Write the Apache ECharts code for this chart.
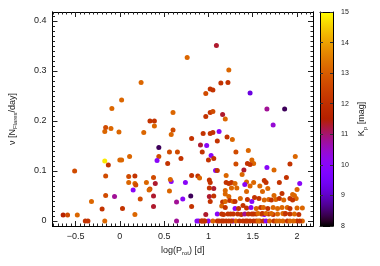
<!DOCTYPE html>
<html><head><meta charset="utf-8">
<script src="https://cdn.jsdelivr.net/npm/echarts@6/dist/echarts.min.js"></script>
<style>html,body{margin:0;padding:0;background:#fff}#c{width:380px;height:266px}</style>
</head><body><div id="c"></div>
<script>
// ---- data ----
const Y=14.8,O=13.15,OR=12.65,R=12.1,MR=11.3,M=10.8,V=10.0,DV=9.2,DP=8.4;
const logP=[-0.64,-0.59,-0.48,-0.39,-0.36,-0.51,-0.32,-0.20,-0.17,-0.16,-0.06,0.03,-0.17,-0.13,-0.16,-0.17,-0.16,-0.10,-0.01,-0.09,0.02,0.0,0.02,0.11,0.10,0.10,0.15,0.27,0.34,0.39,
0.39,0.58,0.60,0.44,0.44,0.42,0.56,0.65,0.54,0.69,0.17,0.17,0.18,0.38,0.30,0.40,0.34,0.33,0.58,0.57,0.74,0.81,0.88,0.23,0.38,0.38,0.64,0.71,0.80,0.81,
0.17,0.64,0.56,0.76,0.24,0.60,0.97,1.02,1.05,0.97,1.02,1.05,1.09,1.23,1.14,1.22,1.47,1.16,1.19,1.66,1.86,1.73,0.81,0.94,1.02,1.05,1.12,1.10,1.21,1.27,
0.91,0.98,0.93,1.03,1.00,1.06,1.31,1.45,1.49,1.51,1.31,1.44,1.47,1.66,1.74,1.98,1.92,1.08,1.10,1.40,1.38,1.20,1.01,1.02,1.20,1.23,1.26,1.30,1.43,1.51,
1.63,1.65,1.80,1.88,2.03,1.06,1.01,1.19,1.26,1.32,1.43,1.47,1.58,1.61,1.67,2.00,1.41,1.01,1.06,1.19,1.23,1.36,1.44,1.49,1.52,1.57,1.63,1.68,1.71,1.76,
1.80,1.85,1.92,1.97,1.99,1.02,1.16,1.19,1.24,1.28,1.30,1.83,1.95,1.95,1.74,1.15,1.19,1.30,1.34,1.39,1.43,1.48,1.54,1.59,1.62,1.67,1.73,1.78,1.83,1.89,
1.92,2.00,2.06,0.97,1.10,1.15,1.17,1.22,1.25,1.28,1.33,1.37,1.41,1.45,1.49,1.51,1.54,1.60,1.63,1.68,1.73,1.78,1.86,1.92,1.97,2.02,1.56,1.61,1.65,1.71,
1.84,1.87,0.87,0.89,0.92,0.95,1.00,1.05,1.10,1.15,1.17,1.20,1.23,1.28,1.31,1.35,1.39,1.42,1.47,1.51,1.54,1.58,1.62,1.65,1.69,1.74,1.80,1.84,1.89,1.92,
2.00,2.06,0.93,0.96,1.12,1.26,1.44,1.56,1.77,1.96,2.03,0.90];
const nu=[0.012,0.012,0.012,0.0,0.0,0.100,0.039,0.024,0.0,0.051,0.049,0.025,0.120,0.112,0.090,0.179,0.187,0.185,0.178,0.225,0.242,0.122,0.122,0.129,0.089,0.077,0.062,0.177,0.200,0.200,
0.190,0.173,0.182,0.147,0.129,0.121,0.138,0.138,0.115,0.125,0.090,0.075,0.072,0.087,0.077,0.075,0.064,0.062,0.079,0.083,0.077,0.091,0.090,0.044,0.050,0.029,0.038,0.044,0.050,0.029,
0.013,0.0,0.060,0.327,0.277,0.217,0.255,0.264,0.262,0.209,0.217,0.219,0.351,0.302,0.276,0.277,0.256,0.213,0.204,0.224,0.224,0.192,0.165,0.175,0.175,0.177,0.179,0.160,0.168,0.163,
0.152,0.151,0.138,0.131,0.122,0.125,0.138,0.141,0.122,0.115,0.114,0.115,0.113,0.107,0.102,0.129,0.114,0.101,0.101,0.102,0.093,0.091,0.082,0.077,0.077,0.075,0.077,0.075,0.078,0.077,
0.081,0.077,0.077,0.087,0.075,0.065,0.066,0.061,0.066,0.066,0.059,0.070,0.070,0.059,0.065,0.063,0.073,0.049,0.050,0.054,0.049,0.045,0.043,0.039,0.047,0.045,0.042,0.043,0.042,0.043,
0.045,0.042,0.045,0.051,0.045,0.039,0.038,0.039,0.041,0.039,0.039,0.055,0.053,0.042,0.051,0.030,0.027,0.025,0.025,0.031,0.026,0.027,0.025,0.027,0.027,0.025,0.027,0.025,0.027,0.027,
0.025,0.026,0.026,0.013,0.014,0.014,0.013,0.014,0.014,0.014,0.014,0.013,0.014,0.014,0.014,0.014,0.014,0.014,0.013,0.014,0.013,0.014,0.014,0.014,0.014,0.013,0.015,0.015,0.015,0.015,
0.015,0.015,0,0,0,0,0,0,0,0,0,0,0,0,0,0,0,0,0,0,0,0,0,0,0,0,0,0,0,0,
0,0,0,0,0,0,0,0,0,0,0,0.086];
const kp=[11.6,OR,O,R,R,OR,O,R,O,OR,M,R,Y,R,OR,O,OR,O,O,O,O,O,O,O,OR,O,V,O,R,R,
O,O,OR,DP,OR,V,OR,OR,R,R,R,O,OR,OR,O,MR,OR,O,V,O,V,R,R,OR,MR,MR,M,V,DP,R,
O,M,O,O,O,O,OR,R,R,R,R,OR,MR,O,R,R,DV,MR,O,M,DP,10.4,R,R,R,R,V,R,R,O,
MR,V,R,V,R,R,OR,O,O,O,OR,R,R,V,O,O,R,V,R,MR,O,O,R,R,R,R,R,O,O,O,
R,R,R,R,V,MR,R,O,O,O,O,O,O,O,O,O,V,MR,R,O,O,O,R,V,R,R,O,O,R,O,
R,O,R,O,O,R,R,O,R,O,R,R,O,R,O,O,R,V,R,R,R,V,O,R,O,R,O,O,O,O,
R,O,O,MR,V,R,R,R,R,R,R,R,M,R,R,R,R,R,V,R,R,O,R,R,O,R,O,R,O,O,
O,R,V,V,R,R,V,O,R,R,R,R,R,V,O,R,R,R,R,R,R,R,R,V,O,R,O,O,R,O,
R,O,R,R,R,R,R,O,O,O,R,O];
const xTicks=[-0.5,0,0.5,1,1.5,2];
const yTicks=[0,0.1,0.2,0.3,0.4];
const cbTicks=[8,9,10,11,12,13,14,15];

// ---- palette (gnuplot pm3d 7,5,15) ----
const stops=[];
for(let i=0;i<=40;i++){const t=i/40;
  const r=Math.round(255*Math.sqrt(t)), g=Math.round(255*t*t*t), b=Math.round(255*Math.max(0,Math.sin(2*Math.PI*t)));
  stops.push({offset:t,color:`rgb(${r},${g},${b})`});}
const palette=stops.map(s=>s.color);

const FONT='Liberation Sans, Arial, sans-serif';
const TC='#222';
function minor(a,b,step){const o=[];for(let v=a;v<=b+1e-9;v+=step)o.push(+v.toFixed(4));return o;}
const xMinor=minor(-0.75,2.15,0.05), yMinor=minor(0,0.41,0.01);
const richName={a:{fontSize:9,fontFamily:FONT,color:TC,lineHeight:12},
  s:{fontSize:6,fontFamily:FONT,color:TC,verticalAlign:'bottom',lineHeight:7}};

function ax(base,extra){return Object.assign({type:'value',splitLine:{show:false},
  axisLine:{show:true,onZero:false,lineStyle:{color:'#000',width:1}},
  axisTick:{show:false},axisLabel:{show:false}},base,extra);}
const XMIN=-0.76,XMAX=2.18,YMIN=-0.01,YMAX=0.418;
const tickStyle={color:'#222',width:1};
const xAxes=[
 ax({gridIndex:0,min:XMIN,max:XMAX,position:'bottom'},{
   axisTick:{show:true,inside:true,length:5,customValues:xTicks,lineStyle:tickStyle},
   axisLabel:{show:true,customValues:xTicks,margin:6,fontSize:9,fontFamily:FONT,color:TC,
     formatter:v=>(v<0?'\u2212':'')+Math.abs(v)},
   name:'{a|log(P}{s|rot}{a|) [d]}',nameLocation:'middle',nameGap:16,
   nameTextStyle:{rich:richName}}),
 ax({gridIndex:0,min:XMIN,max:XMAX,position:'bottom'},{axisTick:{show:true,inside:true,length:2.5,customValues:xMinor,lineStyle:tickStyle}}),
 ax({gridIndex:0,min:XMIN,max:XMAX,position:'top'},{axisTick:{show:true,inside:true,length:5,customValues:xTicks,lineStyle:tickStyle}}),
 ax({gridIndex:0,min:XMIN,max:XMAX,position:'top'},{axisTick:{show:true,inside:true,length:2.5,customValues:xMinor,lineStyle:tickStyle}}),
 ax({gridIndex:1,min:0,max:1,position:'bottom'}),
 ax({gridIndex:1,min:0,max:1,position:'top'})
];
const yAxes=[
 ax({gridIndex:0,min:YMIN,max:YMAX,position:'left'},{
   axisTick:{show:true,inside:true,length:5,customValues:yTicks,lineStyle:tickStyle},
   axisLabel:{show:true,customValues:yTicks,margin:6,fontSize:9,fontFamily:FONT,color:TC},
   name:'{a|\u03bd [N}{s|Flares}{a|/day]}',nameLocation:'middle',nameRotate:90,nameGap:34,
   nameTextStyle:{rich:richName}}),
 ax({gridIndex:0,min:YMIN,max:YMAX,position:'left'},{axisTick:{show:true,inside:true,length:2.5,customValues:yMinor,lineStyle:tickStyle}}),
 ax({gridIndex:0,min:YMIN,max:YMAX,position:'right'},{axisTick:{show:true,inside:true,length:5,customValues:yTicks,lineStyle:tickStyle}}),
 ax({gridIndex:0,min:YMIN,max:YMAX,position:'right'},{axisTick:{show:true,inside:true,length:2.5,customValues:yMinor,lineStyle:tickStyle}}),
 ax({gridIndex:1,min:8,max:15,position:'right'},{
   axisTick:{show:true,inside:true,length:3,customValues:cbTicks,lineStyle:{color:'#333',width:1}},
   axisLabel:{show:true,customValues:cbTicks,margin:8,fontSize:7,fontFamily:FONT,color:TC},
   name:'{a|K}{s|p}{a| [mag]}',nameLocation:'middle',nameRotate:90,nameGap:23,
   nameTextStyle:{rich:richName}}),
 ax({gridIndex:1,min:8,max:15,position:'left'},{axisTick:{show:true,inside:true,length:3,customValues:cbTicks,lineStyle:{color:'#333',width:1}}})
];

const chart=echarts.init(document.getElementById('c'),null,{renderer:'canvas'});
chart.setOption({
  animation:false,backgroundColor:'#fff',
  grid:[{left:46,top:12,width:267,height:214},{left:320,top:12,width:13,height:214}],
  xAxis:xAxes,yAxis:yAxes,
  visualMap:{type:'continuous',show:false,min:8,max:15,dimension:2,seriesIndex:0,inRange:{color:palette}},
  graphic:[{type:'rect',z:-1,shape:{x:320,y:12,width:13,height:214},
    style:{fill:{type:'linear',x:0,y:1,x2:0,y2:0,colorStops:stops}}}],
  series:[{type:'scatter',xAxisIndex:0,yAxisIndex:0,symbolSize:5,
    itemStyle:{opacity:1},
    data:logP.map((x,i)=>[x,nu[i],kp[i]])}]
});
</script></body></html>
